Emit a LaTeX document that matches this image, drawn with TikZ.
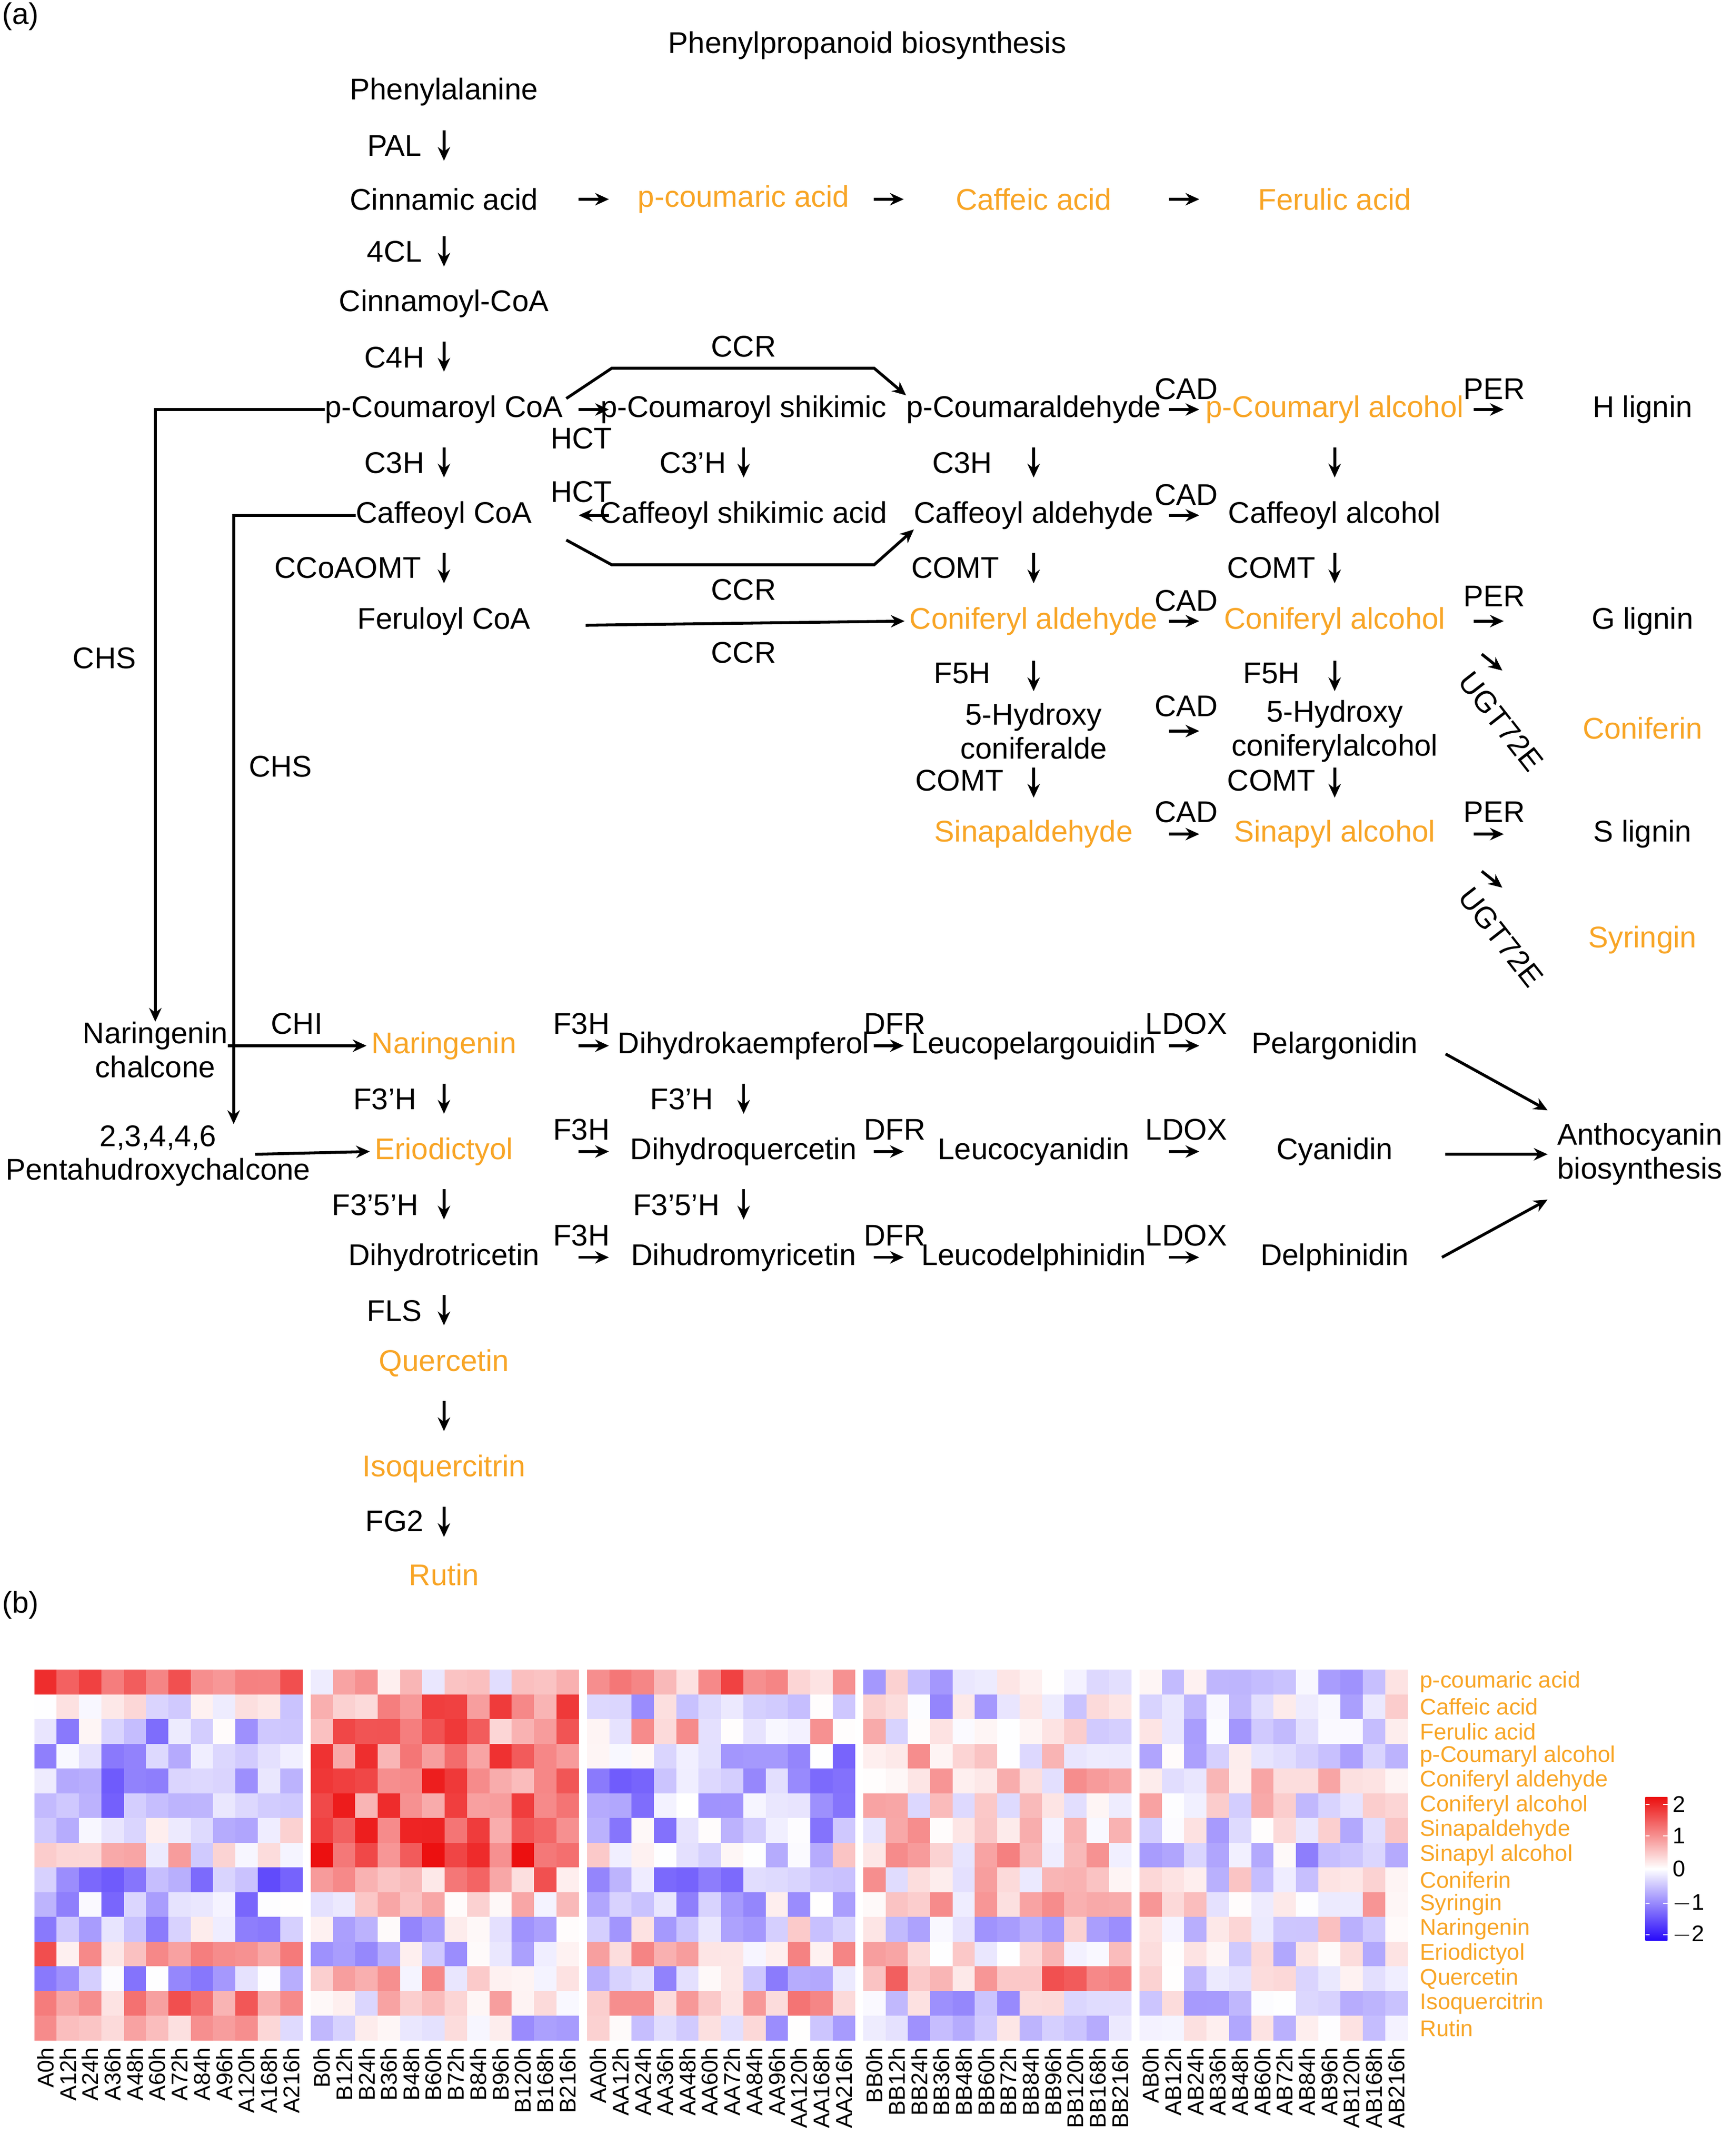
\documentclass[tikz,border=0pt]{standalone}
\usepackage{fontspec}
\setmainfont{Liberation Sans}
\usetikzlibrary{positioning,calc,arrows.meta}
\definecolor{orng}{RGB}{248,165,38}
\definecolor{hmred}{RGB}{236,16,16}
\definecolor{hmblue}{RGB}{40,10,250}
\newcommand{\fs}{\fontsize{31}{35}\selectfont}
\newcommand{\fh}{\fontsize{23.5}{26}\selectfont}
% short step arrow centred between two named nodes
\newcommand{\stp}[3][]{\draw[arr,#1] ($($(#2)!.5!(#3)$)!-5.5mm!(#3)$) -- ($($(#2)!.5!(#3)$)!5.5mm!(#3)$);}
\tikzset{
  mol/.style={font=\fs,inner sep=0pt},
  met/.style={mol,text=orng},
  enz/.style={font=\fs,inner sep=0pt},
  arr/.style={-{Stealth[length=5mm,width=4.5mm]},line width=3pt},
}
\begin{document}
\begin{tikzpicture}[x=0.5mm,y=-0.5mm]
  \useasboundingbox (0,0) rectangle (1260,1569);
  \node[font=\fs] (pa) at (15,12) {(a)};
  \node[font=\fs] (pb) at (15,1168) {(b)};
  \node[mol] (title) at (631,33) {Phenylpropanoid biosynthesis};

  % main column
  \node[mol] (phe) at (323,67) {Phenylalanine};
  \node[mol] (cin) at (323,145) {Cinnamic acid};
  \node[mol] (cincoa) at (323,221) {Cinnamoyl-CoA};
  \node[mol] (pcoucoa) at (323,298) {p-Coumaroyl CoA};
  \node[mol] (cafcoa) at (323,375) {Caffeoyl CoA};
  \node[mol] (fercoa) at (323,452) {Feruloyl CoA};
  \node[enz] at (287,106) {PAL};
  \node[enz] at (287,183) {4CL};
  \node[enz] at (287,260) {C4H};
  \node[enz] at (287,337) {C3H};
  \node[enz] at (253,413) {CCoAOMT};
  \stp{phe}{cin} \stp{cin}{cincoa} \stp{cincoa}{pcoucoa}
  \stp{pcoucoa}{cafcoa} \stp{cafcoa}{fercoa}

  % acids
  \node[met] (pcou) at (541,145) {p-coumaric acid};
  \node[met] (caf) at (752,145) {Caffeic acid};
  \node[met] (fer) at (971,145) {Ferulic acid};
  \stp[xshift=-9]{cin}{pcou} \stp{pcou}{caf} \stp{caf}{fer}

  % H row
  \node[mol] (pcoushik) at (541,298) {p-Coumaroyl shikimic};
  \node[mol] (pcoald) at (752,298) {p-Coumaraldehyde};
  \node[met] (pcoalc) at (971,298) {p-Coumaryl alcohol};
  \node[mol] (hlig) at (1195,298) {H lignin};
  \stp[xshift=-9]{pcoucoa}{pcoushik} \stp{pcoald}{pcoalc} \stp{pcoalc}{hlig}
  \node[enz] at (423,319) {HCT};
  \node[enz] at (863,283) {CAD};
  \node[enz] at (1087,283) {PER};
  \draw[arr] (412,290) -- (445,268) -- (636,268) -- (pcoald.north west);
  \node[enz] at (541,252) {CCR};

  % caffeoyl row
  \node[mol] (cafshik) at (541,375) {Caffeoyl shikimic acid};
  \node[mol] (cafald) at (752,375) {Caffeoyl aldehyde};
  \node[mol] (cafalc) at (971,375) {Caffeoyl alcohol};
  \stp[xshift=-9]{cafshik}{cafcoa}
  \stp{pcoushik}{cafshik} \stp{pcoald}{cafald} \stp{pcoalc}{cafalc}
  \stp{cafald}{cafalc}
  \node[enz] at (423,358) {HCT};
  \node[enz] at (504,337) {C3'H};
  \node[enz] at (700,337) {C3H};
  \node[enz] at (863,360) {CAD};
  \draw[arr] (412,393) -- (445,411) -- (636,411) -- (cafald.south west);
  \node[enz] at (541,429) {CCR};

  % G row
  \node[met] (conald) at (752,452) {Coniferyl aldehyde};
  \node[met] (conalc) at (971,452) {Coniferyl alcohol};
  \node[mol] (glig) at (1195,452) {G lignin};
  \stp{cafald}{conald} \stp{cafalc}{conalc}
  \stp{conald}{conalc} \stp{conalc}{glig}
  \draw[arr] ($(fercoa.east)+(40,3)$) -- ([xshift=-5]conald.west);
  \node[enz] at (541,475) {CCR};
  \node[enz] at (695,413) {COMT};
  \node[enz] at (925,413) {COMT};
  \node[enz] at (863,437) {CAD};
  \node[enz] at (1087,434) {PER};

  % 5-hydroxy row
  \node[mol,align=center] (hyald) at (752,532) {5-Hydroxy\\coniferalde};
  \node[mol,align=center] (hyalc) at (971,532) {5-Hydroxy\\coniferylalcohol};
  \node[met] (coniferin) at (1195,530) {Coniferin};
  \stp{conald}{hyald} \stp{conalc}{hyalc} \stp[yshift=4]{hyald}{hyalc}
  \node[enz] at (700,490) {F5H};
  \node[enz] at (925,490) {F5H};
  \node[enz] at (863,514) {CAD};
  \draw[arr] ($(glig)+(-117,24)$) -- ++(15,12);
  \node[enz,rotate=-52] at (1092,525) {UGT72E};

  % S row
  \node[met] (sinald) at (752,607) {Sinapaldehyde};
  \node[met] (sinalc) at (971,607) {Sinapyl alcohol};
  \node[mol] (slig) at (1195,607) {S lignin};
  \node[met] (syringin) at (1195,684) {Syringin};
  \stp{hyald}{sinald} \stp{hyalc}{sinalc}
  \stp{sinald}{sinalc} \stp{sinalc}{slig}
  \node[enz] at (698,568) {COMT};
  \node[enz] at (925,568) {COMT};
  \node[enz] at (863,591) {CAD};
  \node[enz] at (1087,591) {PER};
  \draw[arr] ($(slig)+(-117,27)$) -- ++(15,12);
  \node[enz,rotate=-52] at (1092,682) {UGT72E};

  % flavonoids
  \node[mol,align=center] (narch) at (113,764) {Naringenin\\chalcone};
  \node[mol] (pen1) at (115,828) {2,3,4,4,6};
  \node[mol] (pen2) at (115,853) {Pentahudroxychalcone};
  \draw[arr] (pcoucoa.west) -| (narch.north);
  \draw[arr] (cafcoa.west) -| (170,818);
  \node[enz] at (76,479) {CHS};
  \node[enz] at (204,558) {CHS};
  \node[enz] at (216,745) {CHI};
  \node[met] (nar) at (323,761) {Naringenin};
  \node[met] (eri) at (323,838) {Eriodictyol};
  \node[mol] (dhtri) at (323,915) {Dihydrotricetin};
  \node[met] (que) at (323,992) {Quercetin};
  \node[met] (isoq) at (323,1069) {Isoquercitrin};
  \node[met] (rut) at (323,1146) {Rutin};
  \draw[arr] (narch.east |- nar) -- ([xshift=-5]nar.west);
  \draw[arr] ($(pen1.east)+(28,12)$) -- ([xshift=-5]eri.west);
  \stp{nar}{eri} \stp{eri}{dhtri} \stp{dhtri}{que} \stp{que}{isoq} \stp{isoq}{rut}
  \node[enz] at (280,800) {F3'H};
  \node[enz] at (273,877) {F3'5'H};
  \node[enz] at (287,954) {FLS};
  \node[enz] at (287,1107) {FG2};

  \node[mol] (dhk) at (541,761) {Dihydrokaempferol};
  \node[mol] (dhq) at (541,838) {Dihydroquercetin};
  \node[mol] (dhm) at (541,915) {Dihudromyricetin};
  \node[mol] (lpel) at (752,761) {Leucopelargouidin};
  \node[mol] (lcya) at (752,838) {Leucocyanidin};
  \node[mol] (ldel) at (752,915) {Leucodelphinidin};
  \node[mol] (pel) at (971,761) {Pelargonidin};
  \node[mol] (cya) at (971,838) {Cyanidin};
  \node[mol] (del) at (971,915) {Delphinidin};
  \node[mol,align=center] (antho) at (1193,840) {Anthocyanin\\biosynthesis};
  \stp[xshift=-9]{nar}{dhk} \stp[xshift=-9]{eri}{dhq} \stp[xshift=-9]{dhtri}{dhm}
  \stp{dhk}{lpel} \stp{dhq}{lcya} \stp{dhm}{ldel}
  \stp{lpel}{pel} \stp{lcya}{cya} \stp{ldel}{del}
  \stp{dhk}{dhq} \stp{dhq}{dhm}
  \foreach \yy in {745,822,899}{
    \node[enz] at (423,\yy) {F3H};
    \node[enz] at (651,\yy) {DFR};
    \node[enz] at (863,\yy) {LDOX};
  }
  \node[enz] at (496,800) {F3'H};
  \node[enz] at (492,877) {F3'5'H};
  \draw[arr] ($(pel.east)+(20,6)$) -- ($(antho.west)+(-7,-32)$);
  \draw[arr] ($(cya.east)+(38,2)$) -- ($(antho.west)+(-7,0)$);
  \draw[arr] ($(del.east)+(24,0)$) -- ($(antho.west)+(-7,33)$);

  % heatmap
  \def\hm{{1.3,-0.3,-0.6,-0.5,-0.8,-0.8,-0.2,0.2,-0.8,-0.6,-0.4,0.8,-0.6,0.9,0.4,
           0.3,1.0,1.0,1.3,1.2,1.3,1.2,1.5,0.8,0.2,-0.3,-0.3,0.4,0.3,-0.3,
           0.9,-0.4,0.3,-0.6,-0.7,-0.6,-0.5,-0.2,-0.6,-0.4,-0.2,0.6,-0.4,0.6,-0.3,
           -0.3,-0.3,0.1,0.3,0.3,0.2,0.3,0.4,0.4,0.3,-0.3,0.4,0.8,-0.3,-0.3,
           -0.2,-0.1,-0.2,-0.1,0.1,0.1,-0.2,-0.4,-0.1,0.3,-0.1,-0.2,-0.1,-0.2,-0.2}}
  \pgfmathsetseed{11}
  \foreach \b in {0,...,4}{
    \foreach \r in {0,...,14}{
      \foreach \c in {0,...,11}{
        \pgfmathsetmacro\v{max(-2,min(2,\hm[\b*15+\r]+0.7*rand))}
        \pgfmathsetmacro\p{abs(\v)*50}
        \pgfmathtruncatemacro\s{\v>=0}
        \ifnum\s=1 \def\hc{hmred}\else\def\hc{hmblue}\fi
        \fill[\hc!\p!white] (25+201*\b+16.25*\c,1215+18*\r) rectangle ++(16.45,18.2);
      }
    }
  }
  \foreach \lab [count=\r from 0] in {p-coumaric acid,Caffeic acid,Ferulic acid,p-Coumaryl alcohol,Coniferyl aldehyde,Coniferyl alcohol,Sinapaldehyde,Sinapyl alcohol,Coniferin,Syringin,Naringenin,Eriodictyol,Quercetin,Isoquercitrin,Rutin}
    \node[font=\fh,text=orng,anchor=west,inner sep=0pt] (row\r) at (1033,1224+18*\r) {\lab};
  \foreach \b/\pre in {0/A,1/B,2/AA,3/BB,4/AB}
    \foreach \t [count=\c from 0] in {0,12,24,36,48,60,72,84,96,120,168,216}
      \node[font=\fh,rotate=90,anchor=east,inner sep=0pt] (c\pre\t) at (25+201*\b+16.25*\c+8.1,1490) {\pre\t h};

  % colour bar
  \shade[top color=hmred,bottom color=white] (1197,1308) rectangle (1213,1360);
  \shade[top color=white,bottom color=hmblue] (1197,1360) rectangle (1213,1412);
  \foreach \k/\yy in {2/1313,1/1336,0/1360,$-$1/1385,$-$2/1408}{
    \draw[white,line width=1pt] (1197,\yy) -- (1200,\yy) (1210,\yy) -- (1213,\yy);
    \node[font=\fh,anchor=west,inner sep=0pt] at (1217,\yy) {\k};
  }
\end{tikzpicture}
\end{document}
